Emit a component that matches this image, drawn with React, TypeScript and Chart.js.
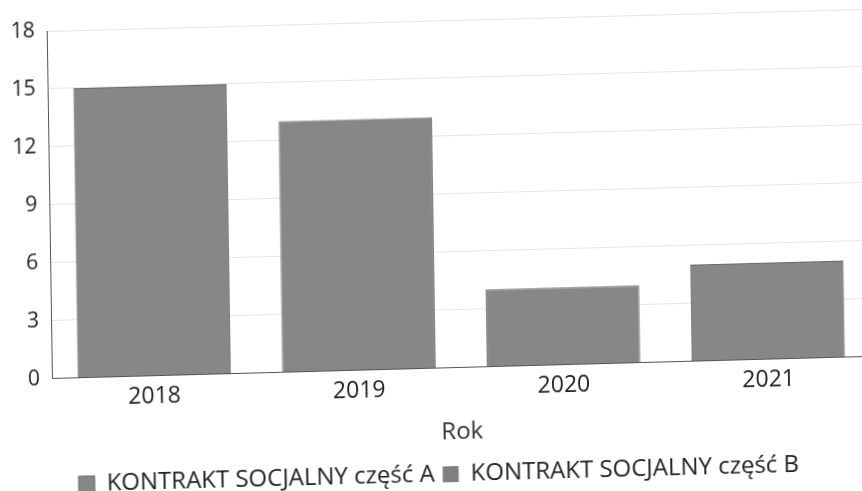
import React, { useEffect, useRef } from "react";
import { Chart, registerables } from "chart.js";

Chart.register(...registerables);

const years = ["2018", "2019", "2020", "2021"];
const seriesA = [15, 13, 4, 5];
const seriesB = [0, 0, 0, 0];
const seriesNames = ["KONTRAKT SOCJALNY część A", "KONTRAKT SOCJALNY część B"];
const axisTitle = "Rok";
const yMax = 18;
const yStep = 3;

const FONT = "'Open Sans', 'Noto Sans', sans-serif";

export default function App() {
  const ref = useRef<HTMLCanvasElement | null>(null);

  useEffect(() => {
    if (!ref.current) return;
    const chart = new Chart(ref.current, {
      type: "bar",
      data: {
        labels: years,
        datasets: [
          {
            label: seriesNames[0],
            data: seriesA,
            backgroundColor: "#878787",
            borderColor: "#6a6a6a",
            borderWidth: 1,
            borderSkipped: "bottom",
          },
          {
            label: seriesNames[1],
            data: seriesB,
            backgroundColor: "#808080",
            borderColor: "#6a6a6a",
            borderWidth: 0,
          },
        ],
      },
      options: {
        responsive: false,
        animation: false,
        devicePixelRatio: 1,
        layout: { padding: { top: 31, right: 9, left: 4, bottom: 3 } },
        datasets: {
          bar: { barPercentage: 1, categoryPercentage: 0.75 },
        },
        scales: {
          x: {
            stacked: true,
            grid: { display: false, drawTicks: false },
            border: { display: true, color: "#555555", width: 1 },
            ticks: {
              color: "#222222",
              padding: 7,
              font: { family: FONT, size: 23 },
            },
            title: {
              display: true,
              text: axisTitle,
              color: "#333333",
              font: { family: FONT, size: 24 },
              padding: { top: 9, bottom: 7 },
            },
          },
          y: {
            stacked: true,
            min: 0,
            max: yMax,
            ticks: {
              stepSize: yStep,
              color: "#222222",
              padding: 12,
              font: { family: FONT, size: 21 },
            },
            grid: { color: "#e6e6e6", drawTicks: false },
            border: { display: true, color: "#555555", width: 1 },
          },
        },
        plugins: {
          legend: {
            position: "bottom",
            labels: {
              color: "#222222",
              font: { family: FONT, size: 24 },
              boxWidth: 16,
              boxHeight: 16,
              padding: 8,
            },
          },
          tooltip: { enabled: false },
        },
      },
    });
    return () => chart.destroy();
  }, []);

  return (
    <div
      style={{
        position: "fixed",
        left: 0,
        top: 0,
        width: 862,
        height: 491,
        overflow: "hidden",
        background: "#ffffff",
      }}
    >
      <div
        style={{
          width: 880,
          height: 510,
          transformOrigin: "52px 382px",
          transform: "matrix(1, -0.027, 0.015, 1, 0, 0)",
        }}
      >
        <canvas ref={ref} width={880} height={510} style={{ display: "block" }} />
      </div>
    </div>
  );
}
